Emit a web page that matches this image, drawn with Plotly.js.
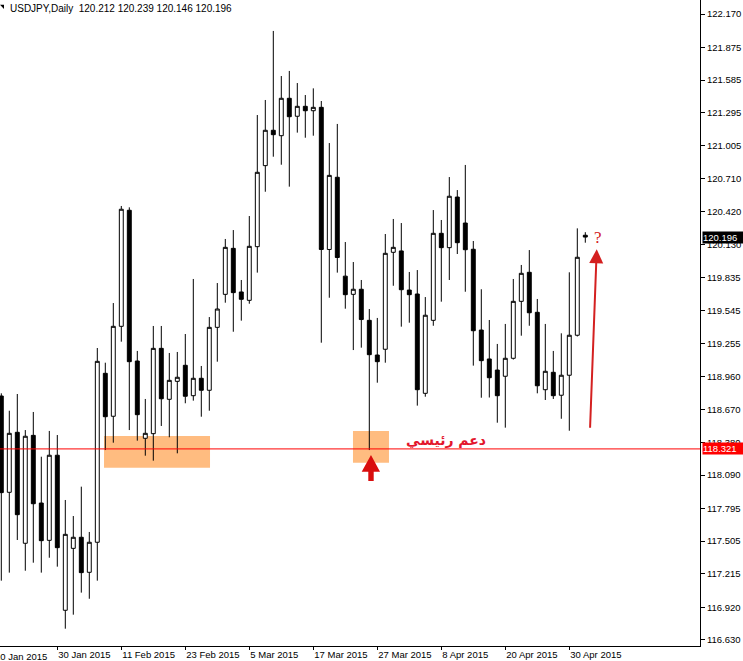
<!DOCTYPE html>
<html>
<head>
<meta charset="utf-8">
<script src="https://cdn.plot.ly/plotly-3.0.1.min.js"></script>
<style>html,body{margin:0;padding:0;background:#fff;}#chart{width:743px;height:661px;}</style>
</head>
<body>
<div id="chart"></div>
<script>
// Daily candles, 21 Jan 2015 .. 4 May 2015 (trading days, index 0..73)
const openP  = [118.789,117.937,118.468,117.486,118.441,117.842,117.512,118.265,116.893,117.441,
                117.539,117.229,117.495,118.990,118.610,119.406,120.433,119.099,118.415,118.456,
                119.211,118.760,118.919,119.061,118.792,118.946,118.840,119.397,119.689,120.096,
                119.710,119.636,120.111,120.828,121.141,121.093,121.424,121.265,121.353,121.314,
                121.344,120.086,120.725,119.850,119.689,119.734,119.459,119.152,119.203,120.061,
                120.073,119.727,119.692,118.813,119.459,120.229,120.102,120.550,120.320,120.088,
                119.373,119.117,119.019,118.964,119.123,119.627,119.884,119.530,118.845,118.999,
                118.796,118.973,119.327,120.212];
const highP  = [118.813,118.659,118.807,118.488,118.648,118.252,118.480,118.444,117.869,117.727,
                117.987,117.586,119.214,119.084,119.612,120.471,120.459,119.188,118.763,119.409,
                119.409,119.170,119.179,119.338,119.825,119.055,119.488,119.789,120.179,120.258,
                119.816,120.382,121.276,121.409,122.020,121.621,121.666,121.559,121.453,121.512,
                121.400,121.028,121.197,120.152,119.975,119.816,119.559,119.480,120.223,120.356,
                120.320,119.887,119.904,119.665,120.435,120.347,120.727,120.612,120.834,120.161,
                119.734,119.462,119.250,119.427,119.825,119.949,120.081,119.648,119.427,119.188,
                119.344,119.884,120.273,120.239];
const lowP   = [117.155,117.226,117.515,117.243,117.314,117.226,117.358,117.279,116.730,116.854,
                117.049,116.995,117.155,118.311,118.376,119.270,118.488,118.394,118.261,118.217,
                118.524,118.424,118.282,118.725,118.748,118.606,118.659,119.093,119.615,119.358,
                119.456,119.606,119.881,120.597,120.907,120.836,120.642,121.120,121.075,121.093,
                119.261,119.659,119.881,119.562,119.196,119.217,118.311,118.907,119.084,119.765,
                119.403,119.438,118.704,118.783,119.411,119.624,119.816,120.046,119.712,119.058,
                118.774,118.776,118.553,118.509,119.112,119.323,119.411,118.813,118.754,118.763,
                118.588,118.482,119.316,120.146];
const closeP = [117.934,118.459,117.739,118.433,117.836,117.509,118.265,117.447,117.565,117.539,
                117.226,117.495,119.096,118.606,119.406,120.442,119.093,118.624,118.459,119.211,
                118.765,118.928,118.955,118.787,118.946,118.840,119.397,119.559,120.105,119.704,
                119.645,120.114,120.769,121.141,121.102,121.424,121.261,121.353,121.314,121.344,
                120.086,120.742,120.015,119.686,119.734,119.466,119.155,119.093,120.052,120.105,
                119.730,119.686,118.845,119.504,120.229,120.102,120.557,120.146,120.084,119.367,
                119.102,118.951,118.792,119.123,119.627,119.875,119.526,118.880,119.008,118.792,
                118.973,119.327,120.017,120.196];

const dateTickIdx   = [7, 15, 23, 31, 39, 47, 55, 63, 71];
const dateTickText  = ["30 Jan 2015","11 Feb 2015","23 Feb 2015","5 Mar 2015","17 Mar 2015",
                       "27 Mar 2015","8 Apr 2015","20 Apr 2015","30 Apr 2015"];
const firstDateText = "20 Jan 2015";

const priceTicks = [122.170,121.875,121.585,121.295,121.005,120.710,120.420,120.130,119.835,119.545,
                    119.255,118.960,118.670,118.380,118.090,117.795,117.505,117.215,116.920,116.630];
const priceTickText = ["122.170","121.875","121.585","121.295","121.005","120.710","120.420","120.130","119.835","119.545",
                       "119.255","118.960","118.670","118.380","118.090","117.795","117.505","117.215","116.920","116.630"];

const symbolTitle  = "USDJPY,Daily  120.212 120.239 120.146 120.196";
const supportLevel = 118.321;
const supportText  = "118.321";
const lastPrice    = 120.196;
const lastText     = "120.196";
const supportLabel = "دعم رئيسي";

const idx = openP.map((_, i) => i);

const FONT = "Liberation Sans, Tahoma, Arial, sans-serif";
const TICKSIZE = 9.5;

const trace = {
  type: "candlestick",
  x: idx, open: openP, high: highP, low: lowP, close: closeP,
  increasing: {line: {color: "#000", width: 1}, fillcolor: "#ffffff"},
  decreasing: {line: {color: "#000", width: 1}, fillcolor: "#000000"},
  whiskerwidth: 0,
  hoverinfo: "skip",
  showlegend: false
};

const zoneFill = "rgb(255,188,128)";
const layout = {
  width: 743, height: 661,
  margin: {l: 0, r: 43, t: 0, b: 15, pad: 0},
  paper_bgcolor: "#fff", plot_bgcolor: "#fff",
  showlegend: false,
  boxgap: 0.3, boxgroupgap: 0.3,
  font: {family: FONT, size: 10, color: "#000"},
  xaxis: {
    type: "linear", range: [-0.1625, 87.3375], fixedrange: true,
    showgrid: false, zeroline: false,
    showline: true, linecolor: "#000", linewidth: 1,
    tickvals: dateTickIdx, ticktext: dateTickText,
    ticks: "outside", ticklen: 3, tickcolor: "#000", tickwidth: 1,
    tickangle: 0, automargin: false,
    ticklabelposition: "outside right",
    tickfont: {family: FONT, size: TICKSIZE, color: "#000"},
    rangeslider: {visible: false}
  },
  yaxis: {
    side: "right", range: [116.5768, 122.2939], fixedrange: true,
    showgrid: false, zeroline: false,
    showline: true, linecolor: "#000", linewidth: 1,
    tickvals: priceTicks, ticktext: priceTickText,
    ticks: "outside", ticklen: 4, tickcolor: "#000", tickwidth: 1,
    tickfont: {family: FONT, size: TICKSIZE, color: "#000"}
  },
  shapes: [
    {type: "rect", xref: "x", yref: "y", x0: 12.84, x1: 26.09, y0: 118.155, y1: 118.435,
     fillcolor: zoneFill, line: {width: 0}, layer: "below"},
    {type: "rect", xref: "x", yref: "y", x0: 43.96, x1: 48.46, y0: 118.199, y1: 118.480,
     fillcolor: zoneFill, line: {width: 0}, layer: "below"},
    {type: "line", xref: "paper", yref: "y", x0: 0, x1: 1, y0: supportLevel, y1: supportLevel,
     line: {color: "#ff0000", width: 1}, layer: "above"},
    {type: "path", xref: "x", yref: "y",
     path: "M46.21,118.267 L45.05,118.119 L45.875,118.119 L45.875,118.037 L46.55,118.037 L46.55,118.119 L47.34,118.119 Z",
     fillcolor: "#d90d0d", line: {width: 0}, layer: "above"},
    {type: "path", xref: "paper", yref: "paper",
     path: "M0,0.9925 L0.0057,0.9925 L0.0057,0.9862 Z",
     fillcolor: "#000", line: {width: 0}}
  ],
  annotations: [
    {xref: "paper", yref: "paper", x: 0, y: 1, xshift: 8, yshift: -1, xanchor: "left", yanchor: "top",
     text: symbolTitle, showarrow: false, font: {family: FONT, size: 10, color: "#000"}},
    {xref: "paper", yref: "paper", x: -0.0096, y: 0, yshift: -3, xanchor: "left", yanchor: "top",
     text: firstDateText, showarrow: false, font: {family: FONT, size: TICKSIZE, color: "#000"}},
    {xref: "paper", yref: "y", x: 1, y: supportLevel, xshift: 2, xanchor: "left", yanchor: "middle",
     text: supportText, showarrow: false, bgcolor: "#ff0000", borderpad: 0, width: 41, align: "left",
     font: {family: FONT, size: TICKSIZE, color: "#fff"}},
    {xref: "paper", yref: "y", x: 1, y: lastPrice, xshift: 2, xanchor: "left", yanchor: "middle",
     text: lastText, showarrow: false, bgcolor: "#000000", borderpad: 0, width: 41, align: "left",
     font: {family: FONT, size: TICKSIZE, color: "#fff"}},
    {xref: "x", yref: "y", x: 55.6, y: 118.392, xanchor: "center", yanchor: "middle",
     text: supportLabel, showarrow: false,
     font: {family: "DejaVu Sans, sans-serif", size: 14, color: "#e3162c", weight: "bold"}},
    {xref: "x", yref: "y", x: 74.43, y: 120.088, axref: "x", ayref: "y", ax: 73.59, ay: 118.495,
     text: "", showarrow: true, arrowhead: 2, arrowsize: 1.4, arrowwidth: 2, arrowcolor: "#d42020", standoff: 0},
    {xref: "x", yref: "y", x: 74.63, y: 120.194, xanchor: "center", yanchor: "middle",
     text: "?", showarrow: false, font: {family: "Liberation Serif, serif", size: 17, color: "#d42020"}}
  ]
};

Plotly.newPlot("chart", [trace], layout, {staticPlot: true, displayModeBar: false});
</script>
</body>
</html>
